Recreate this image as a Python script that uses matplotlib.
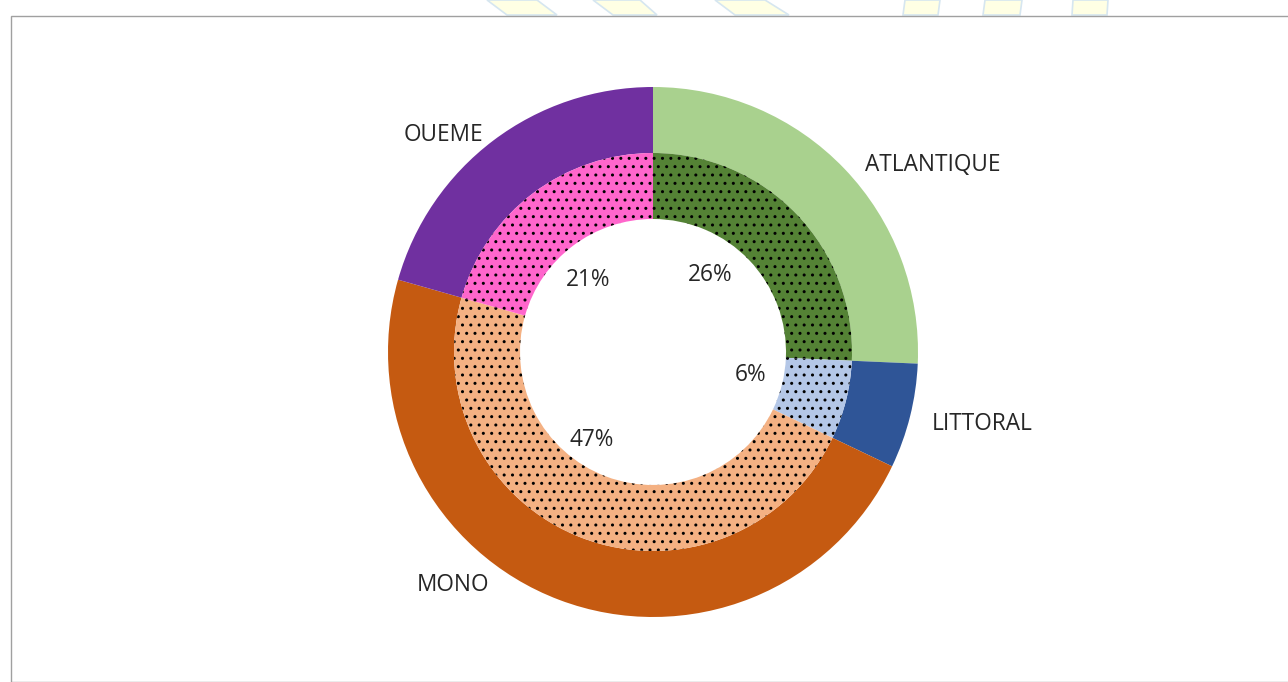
import matplotlib
matplotlib.use("Agg")
import matplotlib.pyplot as plt
from matplotlib.patches import Polygon, Rectangle

plt.rcParams['font.family'] = ['Open Sans', 'DejaVu Sans']
plt.rcParams['hatch.linewidth'] = 1.0

categories = ["ATLANTIQUE", "LITTORAL", "MONO", "OUEME"]
outer_values = [25.7, 6.4, 47.3, 20.6]
inner_values = [25.7, 6.4, 47.3, 20.6]
pct_labels = ["26%", "6%", "47%", "21%"]

outer_colors = ["#A9D18E", "#2F5597", "#C55A11", "#7030A0"]
inner_colors = ["#548235", "#B4C7E7", "#F4B183", "#FF66CC"]

# label positions (in units of the outer radius)
cat_label_pos = [(1.057, 0.706), (1.242, -0.271), (-0.755, -0.879), (-0.79, 0.819)]
pct_label_pos = [(0.215, 0.291), (0.37, -0.086), (-0.23, -0.331), (-0.245, 0.272)]

W, H = 1288, 682
cx, cy = 653, 352  # pixel center (from top)
R = 265.0

fig = plt.figure(figsize=(W / 100, H / 100), dpi=100)
fig.patch.set_facecolor("white")

# watermark stripes above the chart frame (decoration)
stripes = [
    [(487, 0), (537, 0), (557, 15), (507, 15)],
    [(593, 0), (640, 0), (657, 15), (613, 15)],
    [(715, 0), (765, 0), (789, 15), (735, 15)],
    [(905, 0), (940, 0), (938, 15), (903, 15)],
    [(985, 0), (1022, 0), (1020, 15), (983, 15)],
    [(1073, 0), (1108, 0), (1107, 15), (1072, 15)],
]
for s in stripes:
    pts = [(x / W, 1 - y / H) for x, y in s]
    fig.patches.append(Polygon(pts, closed=True, transform=fig.transFigure,
                               facecolor="#FFFFE4", edgecolor="#D6E6F0",
                               linewidth=1.2, zorder=0))

# chart frame
fig.patches.append(Rectangle((10.5 / W, 0), 1.0, 1 - 15.5 / H,
                             transform=fig.transFigure, facecolor="white",
                             edgecolor="#A0A0A0", linewidth=1.0, zorder=1))

ax = fig.add_axes([0, 0, 1, 1])
ax.set_zorder(5)
ax.set_facecolor("none")
ax.patch.set_alpha(0)
ax.axis("off")

outer_wedges, _ = ax.pie(outer_values, radius=1.0, colors=outer_colors,
                         startangle=90, counterclock=False,
                         wedgeprops=dict(width=1 - 199 / R, linewidth=0,
                                         edgecolor="none"))
inner_wedges, _ = ax.pie(inner_values, radius=199 / R, colors=inner_colors,
                         startangle=90, counterclock=False,
                         wedgeprops=dict(width=(199 - 133) / R, linewidth=0,
                                         edgecolor="black", hatch=".."))
ax.set_aspect("auto")
ax.set_xlim(-cx / R, (W - cx) / R)
ax.set_ylim(-(H - cy) / R, cy / R)

txt_color = "#262626"
for name, (x, y) in zip(categories, cat_label_pos):
    ax.text(x, y, name, ha="center", va="center", fontsize=16.3, color=txt_color)
for p, (x, y) in zip(pct_labels, pct_label_pos):
    ax.text(x, y, p, ha="center", va="center", fontsize=16.3, color=txt_color)

fig.savefig("out.png", dpi=100, facecolor="white")
